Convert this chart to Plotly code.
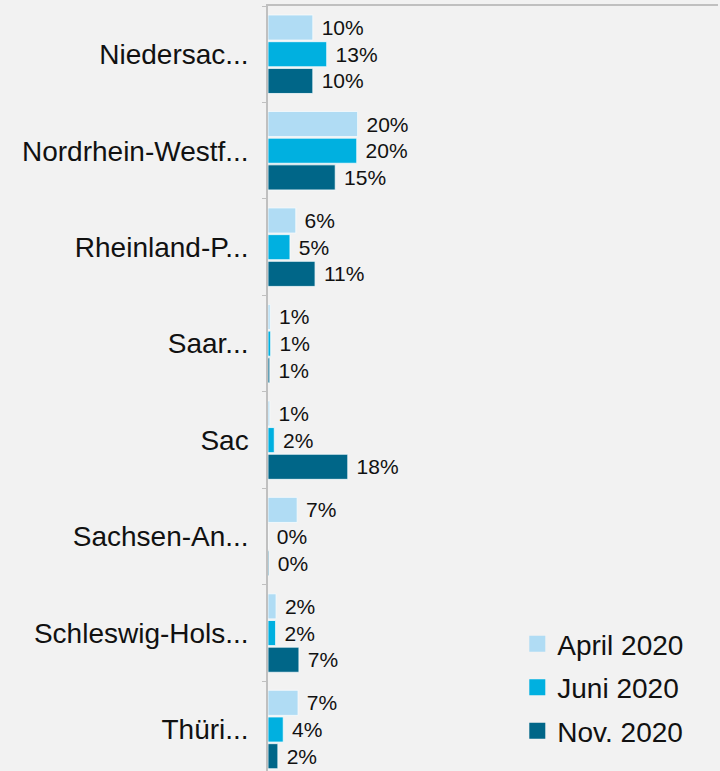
import plotly.graph_objects as go

categories = ["Niedersac...", "Nordrhein-Westf...", "Rheinland-P...", "Saar...",
              "Sac", "Sachsen-An...", "Schleswig-Hols...", "Thüri..."]
series_names = ["April 2020", "Juni 2020", "Nov. 2020"]
april = [10.0, 20.0, 6.2, 0.5, 0.4, 6.5, 1.8, 6.7]
juni = [13.1, 19.8, 4.9, 0.6, 1.4, 0.0, 1.7, 3.4]
nov = [10.0, 15.0, 10.5, 0.4, 17.8, 0.2, 6.9, 2.2]
april_labels = ["10", "20", "6", "1", "1", "7", "2", "7"]
juni_labels = ["13", "20", "5", "1", "2", "0", "2", "4"]
nov_labels = ["10", "15", "11", "1", "18", "0", "7", "2"]
colors = ["#b0dcf4", "#00b0e0", "#006688"]

FONT = "Liberation Sans, Arial, sans-serif"
fig = go.Figure()
for name, vals, labs, col in zip(series_names, [april, juni, nov],
                                 [april_labels, juni_labels, nov_labels], colors):
    fig.add_trace(go.Bar(
        y=categories, x=vals, orientation="h", name=name, text=labs,
        marker=dict(color=col, line=dict(color="#f7fbfd", width=0.8)),
        texttemplate="\u00a0%{text}%", textposition="outside",
        textfont=dict(size=21, color="#111111", family=FONT),
        constraintext="none", cliponaxis=False, showlegend=False,
        hoverinfo="skip"))
    fig.add_trace(go.Scatter(
        x=[None], y=[None], mode="markers", name=name, legendgroup=name,
        marker=dict(symbol="square", size=16, color=col), showlegend=True))

fig.update_layout(
    width=720, height=771,
    margin=dict(l=268, r=2, t=6, b=0),
    paper_bgcolor="#f2f2f2", plot_bgcolor="#f2f2f2",
    barmode="group", bargap=0.17, bargroupgap=0.06,
    font=dict(family=FONT, color="#111111"),
    legend=dict(x=0.554, y=0.1985, xanchor="left", yanchor="top",
                font=dict(size=28, family=FONT, color="#111111"),
                bgcolor="rgba(0,0,0,0)", tracegroupgap=4,
                itemsizing="trace"),
    xaxis=dict(range=[0, 100.4], side="top", showline=True, linecolor="#c0c0c0",
               linewidth=1.5, showgrid=False, zeroline=False,
               showticklabels=False, ticks=""),
    yaxis=dict(categoryorder="array", categoryarray=categories,
               range=[7.43, -0.5], showline=True, linecolor="#c0c0c0",
               linewidth=1.5, ticks="outside", tickson="boundaries",
               ticklen=4, tickcolor="#c0c0c0", showgrid=False,
               tickfont=dict(size=28, family=FONT, color="#111111"),
               ticklabelstandoff=12),
)
fig.write_html(
    "out.html",
    config={"displayModeBar": False},
    post_script="document.body.style.margin='0';"
                "document.body.style.background='#f2f2f2';",
)
